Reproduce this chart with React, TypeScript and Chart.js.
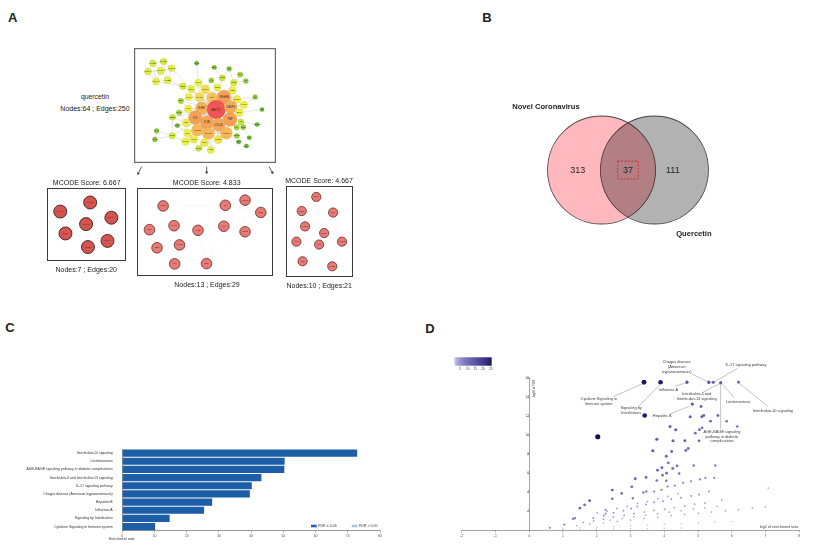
import { useEffect, useRef } from "react";
import { Chart, registerables } from "chart.js";

Chart.register(...registerables);
const FONT = "'Liberation Sans', Arial, Helvetica, sans-serif";
Chart.defaults.font.family = FONT;

type Pair = [number, number];
type Tri = [number, number, number];

// ================= Panel A : PPI network of quercetin targets =================
const NET_LABELS = ["CYP1B1","CYP2C9","CYP3A4","CYP19A1","CYP1A2","CYP1A1","CYP2E1","ACHE","NR1I3","IGF1","HSPA5","F3","MMP2","AHR","SIRT1","NOS3","SPP1","ABCB1","NQO1","HMOX1","SOD1","AR","MMP1","PPARG","JUN","VEGFA","CDKN1A","ESR1","CASP8","F2","EGFR","AKT1","CASP3","MYC","PTGS1","BCL2","IL6","ERBB2","TNF","IL1B","FOS","CXCL8","IL2","PRKCA","CD40LG","PLAU","CCL2","IL1A","SELE","CRP","ICAM1","MMP9","CXCL11","GJA1","PLAT","NOS2","CXCL10","VCAM1","IFNG","PTGS2","HSPB1","DCAF5","CXCL2","CCL5"];
const NET_X = [10.7,23,5,19.7,32.3,14.3,27.7,61.3,81.7,99,111.7,118.3,91,78.3,104.3,85.3,63.3,45.3,55,71.3,103,129,52.3,64.7,79,93,108,43,116,137,67.3,84,100.7,51.7,41,110.7,59.7,33.3,100,73.3,49.3,86.7,112.7,39,131.3,15,62.3,107.7,115.3,50.7,75,95.7,107.7,122.3,13,33,48.3,58,70.3,86.3,110,119,63.7,77.7];
const NET_Y = [6.7,4.7,16.7,16,12.7,28.7,27,6.7,11.7,13.3,20.3,28,24.3,27.3,30,35.7,30.3,34.3,37.7,38,39.7,47.3,47.3,47.3,48.3,47.3,50,52,56.7,62.3,60.7,62.3,59.3,61.7,66,66,72.3,71.7,74.3,77.7,78.3,80.7,77.3,81.7,80.3,88,87,83.7,83.7,90.7,91,90.7,94,96.3,98.3,94,101,98,102.3,98.3,101.3,106.3,109,111];
const NET_DEGREE = [10,10,11,12,11,12,12,2,3,4,6,4,8,5,10,12,13,10,12,18,13,4,13,18,25,35,14,6,13,2,31,52,32,14,6,14,35,8,35,34,15,33,8,3,2,4,29,6,5,14,29,29,5,2,4,10,13,14,15,16,2,2,8,12];
const NET_EDGES: Pair[] = [
  [1,2],[1,3],[1,4],[2,4],[2,5],[3,4],[3,6],[4,5],[4,6],[4,7],[5,7],[6,7],[1,6],[2,7],[7,18],[6,18],[5,19],[18,23],[18,32],[19,32],
  [32,17],[32,19],[32,20],[32,23],[32,24],[32,25],[32,26],[32,27],[32,29],[32,31],[32,33],[32,34],[32,36],[32,37],[32,39],[32,40],[32,41],[32,42],[32,47],[32,50],[32,51],[32,52],[32,56],[32,57],[32,58],[32,59],[32,60],[32,63],[32,64],[32,16],[32,21],[32,13],[32,15],[32,28],[32,35],[32,38],[32,43],[32,48],
  [26,31],[26,33],[26,37],[26,39],[26,40],[26,42],[31,33],[31,37],[31,39],[31,40],[31,47],[33,37],[33,39],[33,42],[33,52],[37,39],[37,40],[37,42],[37,47],[37,51],[39,40],[39,42],[39,51],[39,52],[40,42],[40,47],[40,51],[42,47],[42,51],[42,52],[47,51],[51,52],[47,52],[25,26],[25,31],[25,33],[25,39],[24,31],[24,37],[20,25],[20,31],[20,26],
  [9,13],[10,13],[10,15],[11,15],[11,21],[12,21],[13,16],[14,16],[14,20],[8,17],[17,20],[17,24],[16,25],[15,26],[21,26],[21,33],[22,27],[22,29],[27,33],[29,33],[29,39],[30,36],[36,39],[36,33],[28,23],[28,34],[35,34],[35,41],[38,41],[38,56],[44,41],[44,50],[46,56],[55,56],[46,55],[56,57],[57,58],[57,50],[58,47],[59,51],[59,40],[60,51],[60,52],[63,58],[63,59],[64,59],[64,51],[61,52],[62,53],[53,48],[48,39],[49,39],[49,43],[43,36],[45,43],[54,49],[41,37],[50,47],[34,31],[34,37],[23,24],[19,24],[41,40],[57,47],[60,42],[27,26],[29,36],[12,15]
];
const NET_TITLE = "quercetin";
const NET_NODE_COUNT = 64;
const NET_EDGE_COUNT = 250;

// MCODE clusters
const MCODE_SCORES = ["6.667", "4.833", "4.667"];
const MCODE_NODE_COUNTS = [7, 13, 10];
const MCODE_EDGE_COUNTS = [20, 29, 21];
const CL1_LABELS = ["CYP1B1","CYP3A4","CYP19A1","CYP1A2","GSTP1","CYP1A1","CYP2E1"];
const CL1_X = [44,7.3,70,39,13.7,65.3,41.3];
const CL1_Y = [9,20.3,28,36,47.7,57,64.7];
const CL1_EDGES: Pair[] = [[1,2],[1,3],[1,4],[1,5],[1,6],[1,7],[2,4],[2,5],[2,6],[2,7],[3,4],[3,5],[3,6],[3,7],[4,5],[4,6],[4,7],[5,6],[5,7],[6,7]];
const CL2_LABELS = ["CXCL2","IL6","CXCL10","CCL2","IFNG","ICAM1","IL1B","IL10","CXCL8","SELE","VCAM1","IL1A","CRP"];
const CL2_X = [22,90.3,112,129.3,7,34,60.3,88.7,112,15.3,40,34.7,69.7];
const CL2_Y = [13.7,13,7,21.3,41.3,36.7,42,37.3,43.7,62.3,59,81,80.7];
const CL2_EDGES: Pair[] = [[1,2],[1,5],[1,6],[1,7],[2,3],[2,4],[2,8],[2,7],[3,4],[3,8],[3,9],[4,9],[4,8],[5,6],[5,10],[6,7],[6,10],[6,11],[7,8],[7,11],[7,13],[8,9],[8,13],[9,13],[10,11],[10,12],[11,12],[11,13],[12,13]];
const CL3_LABELS = ["MMP9","EGFR","JUN","CASP3","VEGFA","AKT1","FOS","MAPK1","TNF","PTGS2"];
const CL3_X = [29.7,12.3,49.7,16.3,39,6,33,60.3,13.3,48.7];
const CL3_Y = [6.3,22.3,24,39.7,47.3,57,60.3,57,79.3,85];
const CL3_EDGES: Pair[] = [[1,2],[1,3],[1,5],[2,3],[2,4],[2,5],[3,5],[3,8],[4,5],[4,6],[4,7],[5,7],[5,8],[6,7],[6,9],[7,8],[7,9],[7,10],[8,10],[9,10],[4,9]];

// ================= Panel B : Venn =================
const VENN_SETS = ["Novel Coronavirus", "Quercetin"];
const VENN_ONLY = [313, 111];
const VENN_SHARED = 37;

// ================= Panel C : enrichment bar chart =================
const C_LABELS = [
  "Interleukin-10 signaling",
  "Leishmaniasis",
  "AGE-RAGE signaling pathway in diabetic complications",
  "Interleukin-4 and Interleukin-13 signaling",
  "IL-17 signaling pathway",
  "Chagas disease (American trypanosomiasis)",
  "Hepatitis B",
  "Influenza A",
  "Signaling by Interleukins",
  "Cytokine Signaling in Immune system",
];
const C_VALUES = [72.9, 50.4, 50.3, 43.2, 40.2, 39.6, 27.9, 25.4, 14.7, 10.2];
const C_NONSIG: (number | null)[] = [null, null, null, null, null, null, null, null, null, null];
const C_LEGEND = ["FDR \u2264 0.05", "FDR > 0.05"];
const C_X_TITLE = "Enrichment ratio";

// ================= Panel D : volcano-like scatter =================
// [log2 enrichment ratio, -log10 FDR, overlapping genes]
const D_TOP: Tri[] = [[3.40,15.6,25],[3.89,15.6,24],[4.67,15.6,14],[5.32,15.6,14],[5.45,15.6,13],[5.67,15.55,13],[6.20,15.6,11]];
const D_UPPER: Tri[] = [[4.83,13.3,13],[5.09,13.05,11],[3.42,12.1,24],[4.77,11.97,12],[5.11,11.97,11],[5.17,12.1,11],[5.59,12.1,10],[5.37,11.5,10],[5.85,11.5,9],
  [4.17,10.95,12],[4.34,10.6,12],[6.16,10.95,8],[5.12,10.8,10],[5.04,10.6,10],[4.92,10.24,10],[2.03,9.86,27],[3.78,9.6,13],[4.26,9.44,12],[4.61,9.44,11],[5.03,9.44,10]];
const D_MIDDLE: Tri[] = [[4.71,8.63,10],[3.66,8.39,13],[4.22,8.32,11],[4.64,8.42,10],[4.06,7.82,11],[4.12,7.12,10],[3.80,6.35,11],[3.93,6.6,11],[4.25,6.53,10],[4.38,6.8,9],[4.07,6.03,10],[4.44,6.0,9],[4.87,6.84,8],[5.51,6.84,7],[3.95,5.82,9],
  [3.46,5.58,10],[3.14,5.44,11],[3.78,5.26,9],[4.06,5.23,8],[5.22,5.54,6],[5.48,5.54,6],[3.04,4.6,10],[2.74,3.9,9],[2.46,4.25,11],[2.46,3.34,9],[1.50,2.35,10],[1.64,2.7,10],[1.79,3.13,11]];
const D_LOWER: Tri[] = [[2.26,2.18,6],[2.26,1.79,5],[1.30,1.23,7],[1.35,1.30,7],[1.04,0.63,6],[0.61,0.28,5],[3.07,3.4,7],[3.38,4.0,7],[3.47,4.1,7],[3.70,4.1,6],[5.70,3.23,3],[5.32,4.1,4],[5.03,3.79,4],[7.08,4.46,2],
  [3.92,4.28,6],[4.1,4.62,6],[4.31,4.73,6],[4.56,5.02,6],[4.79,5.18,6],[5.06,5.37,6]];
const D_SMALL: Tri[] = [
  [1.9,1.32,4],[2.21,1.58,4],[2.5,1.87,4],[2.79,2.08,4],[3.02,2.31,4],[3.2,2.52,4],[3.46,2.73,4],[3.7,2.97,4],[3.96,3.08,4],[4.21,3.31,4],[4.49,3.44,4],[4.8,3.62,4],
  [2.02,1.86,3],[2.31,2.04,3],[2.6,2.31,3],[2.9,2.54,3],[3.21,2.86,3],[3.5,3.04,3],[3.81,3.36,3],[4.1,3.59,3],[4.41,3.86,3],
  [1.6,0.86,3],[1.91,1.01,3],[2.2,1.19,3],[2.49,1.42,3],[2.81,1.58,3],[3.1,1.76,3],[3.41,1.94,3],[3.69,2.12,3],[4.01,2.24,3],[4.3,2.41,3],[4.61,2.58,3],[4.9,2.77,3],[5.21,2.89,3],
  [2.4,1.1,2],[2.76,1.27,2],[3.1,1.43,2],[3.45,1.6,2],[3.8,1.76,2],[4.15,1.93,2],[4.5,2.07,2],[4.86,2.25,2],[5.2,2.38,2],[5.56,2.55,2],
  [1.41,0.49,2],[1.79,0.66,2],[2.2,0.79,2],[2.61,0.96,2],[3.0,1.09,2],[3.4,1.26,2],[3.81,1.39,2],[4.2,1.56,2],[4.6,1.69,2],[5.01,1.81,2],[5.4,1.94,2],[5.81,2.06,2],[6.2,2.19,2],[6.61,2.36,2],[7.0,2.49,2],
  [1.0,0.2,1],[1.5,0.29,1],[2.01,0.35,1],[2.5,0.43,1],[3.0,0.5,1],[3.51,0.57,1],[4.0,0.66,1],[4.5,0.71,1],[5.01,0.8,1],[5.5,0.89,1],[6.0,0.94,1],
  [0.5,0.05,1],[1.0,0.08,1],[1.5,0.1,1],[2.0,0.13,1],[2.5,0.15,1],[3.0,0.18,1],[3.5,0.2,1],[4.0,0.23,1],[4.5,0.25,1],
];
const D_X_TICKS = [-2, -1, 0, 1, 2, 3, 4, 5, 6, 7, 8];
const D_Y_TICKS = [2, 4, 6, 8, 10, 12, 14, 16];
const D_COLORBAR_TICKS = [5, 10, 15, 20, 25];
const D_X_TITLE = "log2 of enrichment ratio";
const D_Y_TITLE = "-log10 of FDR";

// annotation layout (label anchor and leader line, in data units)
const D_ANNOTATIONS = [
  { lines: ["Cytokine Signaling in", "Immune system"], tx: 2.06, ty: 13.87, from: [2.49, 14.08], to: [3.36, 15.45] },
  { lines: ["Signaling by", "Interleukins"], tx: 3.02, ty: 12.93, from: [3.26, 13.1], to: [3.87, 15.35] },
  { lines: ["Influenza A"], tx: 4.12, ty: 14.79, from: [4.32, 15.18], to: [4.61, 15.5] },
  { lines: ["Chagas disease", "(American", "trypanosomiasis)"], tx: 4.37, ty: 17.71, from: [4.82, 16.47], to: [5.31, 15.63] },
  { lines: ["IL-17 signaling pathway"], tx: 6.42, ty: 17.42, from: [6.17, 17.07], to: [5.45, 15.56] },
  { lines: ["Interleukin-4 and", "Interleukin-13 signaling"], tx: 4.96, ty: 14.34, from: [5.15, 14.55], to: [5.67, 15.5] },
  { lines: ["Leishmaniasis"], tx: 6.19, ty: 13.53, from: [6.07, 13.98], to: [5.71, 15.42] },
  { lines: ["Interleukin-10 signaling"], tx: 7.22, ty: 12.61, from: [7.08, 13.03], to: [6.22, 15.49] },
  { lines: ["Hepatitis B"], tx: 3.94, ty: 12.08, from: [4.17, 12.26], to: [4.76, 13.1] },
  { lines: ["AGE-RAGE signaling", "pathway in diabetic", "complications"], tx: 5.71, ty: 10.4, from: [5.67, 10.65], to: [5.67, 15.42] },
];

// ================= helpers =================
function rgb(c: number[]) {
  return `rgb(${Math.round(c[0])},${Math.round(c[1])},${Math.round(c[2])})`;
}
function ramp(stops: [number, number[]][], v: number): string {
  if (v <= stops[0][0]) return rgb(stops[0][1]);
  for (let i = 1; i < stops.length; i++) {
    const [v1, c1] = stops[i];
    const [v0, c0] = stops[i - 1];
    if (v <= v1) {
      const t = (v - v0) / (v1 - v0);
      return rgb(c0.map((c, k) => c + (c1[k] - c) * t));
    }
  }
  return rgb(stops[stops.length - 1][1]);
}
const DEGREE_STOPS: [number, number[]][] = [[2,[104,186,52]],[8,[196,228,58]],[13,[236,242,72]],[20,[248,210,86]],[32,[246,172,88]],[52,[240,84,84]]];
const degreeColor = (d: number) => ramp(DEGREE_STOPS, d);
const degreeRadius = (d: number) => 2.0 + d * 0.142;
const OVERLAP_STOPS: [number, number[]][] = [[0,[238,238,250]],[1.5,[178,175,218]],[4,[152,148,206]],[8,[122,116,186]],[13,[96,89,170]],[20,[58,50,134]],[27,[18,14,74]]];
const overlapColor = (n: number) => ramp(OVERLAP_STOPS, n);
const overlapRadius = (n: number) => 0.72 + n * 0.068;

const baseOptions = {
  responsive: false,
  animation: false as const,
  events: [] as any[],
  plugins: { legend: { display: false }, tooltip: { enabled: false } },
};

// ================= chart configs =================
interface NetSpec {
  width: number; height: number;
  labels: string[]; xs: number[]; ys: number[];
  radius: number[]; fill: string[]; stroke: string; strokeWidth: number;
  edges: Pair[]; edgeColor: string; edgeWidth: number;
  fontSize: number[]; frame: string; frameWidth: number;
}
function networkConfig(spec: NetSpec) {
  const plugin = {
    id: "network",
    beforeDatasetsDraw(chart: any) {
      const { ctx, scales: { x, y } } = chart;
      ctx.save();
      ctx.strokeStyle = spec.edgeColor;
      ctx.lineWidth = spec.edgeWidth;
      ctx.beginPath();
      spec.edges.forEach(([a, b]) => {
        ctx.moveTo(x.getPixelForValue(spec.xs[a - 1]), y.getPixelForValue(spec.ys[a - 1]));
        ctx.lineTo(x.getPixelForValue(spec.xs[b - 1]), y.getPixelForValue(spec.ys[b - 1]));
      });
      ctx.stroke();
      ctx.restore();
    },
    afterDatasetsDraw(chart: any) {
      const { ctx, scales: { x, y } } = chart;
      ctx.save();
      ctx.fillStyle = "#2a2a2a";
      ctx.textAlign = "center";
      ctx.textBaseline = "middle";
      spec.labels.forEach((lab, i) => {
        ctx.font = `${spec.fontSize[i]}px ${FONT}`;
        ctx.fillText(lab, x.getPixelForValue(spec.xs[i]), y.getPixelForValue(spec.ys[i]));
      });
      ctx.restore();
    },
    afterDraw(chart: any) {
      const { ctx, width, height } = chart;
      ctx.save();
      ctx.strokeStyle = spec.frame;
      ctx.lineWidth = spec.frameWidth;
      const h = spec.frameWidth / 2;
      ctx.strokeRect(h, h, width - spec.frameWidth, height - spec.frameWidth);
      ctx.restore();
    },
  };
  return {
    type: "scatter",
    data: {
      datasets: [{
        data: spec.xs.map((v, i) => ({ x: v, y: spec.ys[i] })),
        pointRadius: spec.radius,
        pointBackgroundColor: spec.fill,
        pointBorderColor: spec.stroke,
        pointBorderWidth: spec.strokeWidth,
        clip: false,
      }],
    },
    options: {
      ...baseOptions,
      layout: { padding: 0 },
      scales: {
        x: { type: "linear", min: 0, max: spec.width, display: false },
        y: { type: "linear", min: 0, max: spec.height, reverse: true, display: false },
      },
    },
    plugins: [plugin],
  };
}

function mainNetwork() {
  return networkConfig({
    width: 142, height: 115,
    labels: NET_LABELS, xs: NET_X, ys: NET_Y,
    radius: NET_DEGREE.map(degreeRadius),
    fill: NET_DEGREE.map(degreeColor),
    stroke: "rgba(120,120,60,0.25)", strokeWidth: 0.3,
    edges: NET_EDGES, edgeColor: "rgba(150,150,150,0.6)", edgeWidth: 0.4,
    fontSize: NET_DEGREE.map((d) => Math.max(1.8, degreeRadius(d) * 0.4)),
    frame: "#6a6a6a", frameWidth: 1.2,
  });
}
function clusterNetwork(labels: string[], xs: number[], ys: number[], edges: Pair[], w: number, h: number, r: number, fill: string, stroke: string) {
  return networkConfig({
    width: w, height: h, labels, xs, ys,
    radius: xs.map(() => r), fill: xs.map(() => fill),
    stroke, strokeWidth: 0.8,
    edges, edgeColor: "rgba(200,200,200,0.35)", edgeWidth: 0.35,
    fontSize: xs.map(() => 1.8), frame: "#3a3a3a", frameWidth: 1,
  });
}

function vennConfig() {
  const unit = (chart: any) => chart.scales.x.getPixelForValue(1) - chart.scales.x.getPixelForValue(0);
  const plugin = {
    id: "venn",
    beforeDatasetsDraw(chart: any) {
      chart.ctx.save();
      chart.ctx.globalCompositeOperation = "multiply";
    },
    afterDatasetsDraw(chart: any) {
      const { ctx, scales: { x, y } } = chart;
      ctx.restore();
      ctx.save();
      ctx.textAlign = "center";
      ctx.textBaseline = "middle";
      ctx.fillStyle = "#1e1e1e";
      ctx.font = `bold 7.6px ${FONT}`;
      ctx.fillText(VENN_SETS[0], x.getPixelForValue(-1.52), y.getPixelForValue(1.17));
      ctx.fillText(VENN_SETS[1], x.getPixelForValue(1.22), y.getPixelForValue(-1.19));
      ctx.font = `9px ${FONT}`;
      ctx.fillText(String(VENN_ONLY[0]), x.getPixelForValue(-0.93), y.getPixelForValue(-0.01));
      ctx.fillText(String(VENN_SHARED), x.getPixelForValue(0), y.getPixelForValue(-0.01));
      ctx.fillText(String(VENN_ONLY[1]), x.getPixelForValue(0.83), y.getPixelForValue(-0.01));
      ctx.strokeStyle = "#d42a2a";
      ctx.lineWidth = 1;
      ctx.setLineDash([2, 1.4]);
      const x0 = x.getPixelForValue(-0.19), x1 = x.getPixelForValue(0.19);
      const y0 = y.getPixelForValue(0.165), y1 = y.getPixelForValue(-0.165);
      ctx.strokeRect(x0, y0, x1 - x0, y1 - y0);
      ctx.restore();
    },
  };
  return {
    type: "scatter",
    data: {
      datasets: [{
        data: [{ x: -0.49, y: 0 }, { x: 0.49, y: 0 }],
        pointRadius: (c: any) => unit(c.chart),
        pointBackgroundColor: ["rgb(255,184,189)", "rgb(178,178,178)"],
        pointBorderColor: "#4a4a4a",
        pointBorderWidth: 0.8,
        clip: false,
      }],
    },
    options: {
      ...baseOptions,
      layout: { padding: 0 },
      scales: {
        x: { type: "linear", min: -3, max: 3, display: false },
        y: { type: "linear", min: -1.5, max: 1.5, display: false },
      },
    },
    plugins: [plugin],
  };
}

function barConfig() {
  const plugin = {
    id: "barExtras",
    afterDraw(chart: any) {
      const { ctx, chartArea } = chart;
      ctx.save();
      ctx.font = `3.6px ${FONT}`;
      ctx.textBaseline = "middle";
      ctx.textAlign = "left";
      const ly = chartArea.bottom - 4.7;
      let lx = chartArea.right - 69;
      chart.data.datasets.forEach((ds: any) => {
        ctx.fillStyle = ds.backgroundColor;
        ctx.fillRect(lx, ly - 1.3, 5.7, 2.6);
        ctx.fillStyle = "#333";
        ctx.fillText(ds.label, lx + 7.3, ly);
        lx += 40.7;
      });
      ctx.fillStyle = "#333";
      ctx.font = `3.5px ${FONT}`;
      ctx.fillText(C_X_TITLE, chartArea.left - 13.3, chartArea.bottom + 8.3);
      ctx.restore();
    },
  };
  return {
    type: "bar",
    data: {
      labels: C_LABELS,
      datasets: [
        { label: C_LEGEND[0], data: C_VALUES, backgroundColor: "#1c5ea8", categoryPercentage: 0.88, barPercentage: 1 },
        { label: C_LEGEND[1], data: C_NONSIG, backgroundColor: "#a4c6e7", categoryPercentage: 0.88, barPercentage: 1 },
      ],
    },
    options: {
      ...baseOptions,
      indexAxis: "y",
      layout: { padding: { top: 9, right: 20, left: 0, bottom: 0 } },
      scales: {
        x: {
          stacked: true, min: 0, max: 80,
          ticks: { stepSize: 10, font: { size: 3.5 }, color: "#555", padding: 1, maxRotation: 0, autoSkip: false },
          grid: { drawOnChartArea: false, tickLength: 2, color: "#666", lineWidth: 0.5 },
          border: { color: "#555", width: 0.6 },
          afterFit: (s: any) => { s.height = 16.3; },
        },
        y: {
          stacked: true,
          ticks: { font: { size: 3.5 }, color: "#333", padding: 1.6, autoSkip: false },
          grid: { display: false },
          border: { color: "#555", width: 0.6 },
          afterFit: (s: any) => { s.width = 122.3; },
        },
      },
    },
    plugins: [plugin],
  };
}

function scatterConfig() {
  const all = [...D_SMALL, ...D_LOWER, ...D_MIDDLE, ...D_UPPER, ...D_TOP];
  const plugin = {
    id: "scatterExtras",
    afterDraw(chart: any) {
      const { ctx, scales: { x, y }, chartArea } = chart;
      ctx.save();
      // leader lines
      ctx.strokeStyle = "#8a8a8a";
      ctx.lineWidth = 0.5;
      D_ANNOTATIONS.forEach((a) => {
        ctx.beginPath();
        ctx.moveTo(x.getPixelForValue(a.from[0]), y.getPixelForValue(a.from[1]));
        ctx.lineTo(x.getPixelForValue(a.to[0]), y.getPixelForValue(a.to[1]));
        ctx.stroke();
      });
      ctx.fillStyle = "#3a3a3a";
      ctx.font = `3.9px ${FONT}`;
      ctx.textAlign = "center";
      ctx.textBaseline = "middle";
      D_ANNOTATIONS.forEach((a) => {
        a.lines.forEach((ln, k) => {
          ctx.fillText(ln, x.getPixelForValue(a.tx), y.getPixelForValue(a.ty) + k * 4.8);
        });
      });
      // axis titles
      ctx.font = `3.7px ${FONT}`;
      ctx.fillText(D_X_TITLE, x.getPixelForValue(7.4), y.getPixelForValue(0) - 3.5);
      ctx.save();
      ctx.translate(x.getPixelForValue(0) + 4.7, y.getPixelForValue(14.9));
      ctx.rotate(-Math.PI / 2);
      ctx.font = `2.9px ${FONT}`;
      ctx.fillText(D_Y_TITLE, 0, 0);
      ctx.restore();
      // colour bar
      const bx0 = chartArea.left - 7.7, bx1 = chartArea.left + 30;
      const by0 = chartArea.top - 20.2, by1 = chartArea.top - 11.8;
      const vOf = (px: number) => (px - (chartArea.left - 9.4)) / 1.535;
      const g = ctx.createLinearGradient(bx0, 0, bx1, 0);
      for (let k = 0; k <= 20; k++) {
        g.addColorStop(k / 20, overlapColor(vOf(bx0 + (bx1 - bx0) * k / 20) - 1));
      }
      ctx.fillStyle = g;
      ctx.fillRect(bx0, by0, bx1 - bx0, by1 - by0);
      ctx.strokeStyle = "#555";
      ctx.lineWidth = 0.4;
      ctx.fillStyle = "#444";
      ctx.font = `3.2px ${FONT}`;
      D_COLORBAR_TICKS.forEach((t) => {
        const px = chartArea.left - 9.4 + t * 1.535;
        ctx.beginPath();
        ctx.moveTo(px, by1);
        ctx.lineTo(px, by1 + 1.2);
        ctx.stroke();
        ctx.fillText(String(t), px, by1 + 3.6);
      });
      ctx.restore();
    },
  };
  return {
    type: "scatter",
    data: {
      datasets: [{
        data: all.map((p) => ({ x: p[0], y: p[1], n: p[2] })),
        pointRadius: all.map((p) => overlapRadius(p[2])),
        pointBackgroundColor: all.map((p) => overlapColor(p[2])),
        pointBorderWidth: 0,
        clip: false,
      }],
    },
    options: {
      ...baseOptions,
      layout: { padding: { left: 21.7, right: 16.7, top: 37.5, bottom: 0 } },
      scales: {
        x: {
          type: "linear", min: -2, max: 8,
          afterBuildTicks: (s: any) => { s.ticks = D_X_TICKS.map((v) => ({ value: v })); },
          ticks: { font: { size: 3.5 }, color: "#555", padding: 1, maxRotation: 0, autoSkip: false },
          grid: { drawOnChartArea: false, tickLength: 2, color: "#666", lineWidth: 0.5 },
          border: { color: "#666", width: 0.6 },
          afterFit: (s: any) => { s.height = 16.5; },
        },
        y: {
          type: "linear", min: 0, max: 16.1, position: { x: 0 },
          afterBuildTicks: (s: any) => { s.ticks = D_Y_TICKS.map((v) => ({ value: v })); },
          ticks: { font: { size: 3.5 }, color: "#555", padding: 1.5, autoSkip: false },
          grid: { drawOnChartArea: false, tickLength: 2, color: "#666", lineWidth: 0.5 },
          border: { color: "#666", width: 0.6 },
        },
      },
    },
    plugins: [plugin],
  };
}

// ================= components =================
function ChartCanvas({ left, top, width, height, make }: { left: number; top: number; width: number; height: number; make: () => any }) {
  const ref = useRef<HTMLCanvasElement>(null);
  useEffect(() => {
    const chart = new Chart(ref.current as HTMLCanvasElement, make());
    return () => chart.destroy();
  }, []);
  return <canvas ref={ref} width={width} height={height} style={{ position: "absolute", left, top, width, height }} />;
}

function Txt({ x, y, size, bold, children }: { x: number; y: number; size: number; bold?: boolean; children: any }) {
  return (
    <div style={{ position: "absolute", left: x, top: y, transform: "translate(-50%,-50%)", fontSize: size, fontWeight: bold ? 700 : 400, color: "#222", whiteSpace: "nowrap", lineHeight: 1, fontFamily: FONT }}>
      {children}
    </div>
  );
}

const ARROWS = [[141.7, 166.7, 137.3, 175], [206.7, 166.7, 206.7, 174.3], [269, 166.7, 273.3, 174.3]];
function Arrows() {
  return (
    <svg width={400} height={300} style={{ position: "absolute", left: 0, top: 0 }}>
      {ARROWS.map(([x1, y1, x2, y2], i) => {
        const a = Math.atan2(y2 - y1, x2 - x1);
        const L = 2.8, W = 1.5;
        const bx = x2 - L * Math.cos(a), by = y2 - L * Math.sin(a);
        const p1 = `${bx + W * Math.sin(a)},${by - W * Math.cos(a)}`;
        const p2 = `${bx - W * Math.sin(a)},${by + W * Math.cos(a)}`;
        return (
          <g key={i}>
            <line x1={x1} y1={y1} x2={bx} y2={by} stroke="#333" strokeWidth={0.8} />
            <polygon points={`${x2},${y2} ${p1} ${p2}`} fill="#333" />
          </g>
        );
      })}
    </svg>
  );
}

export default function App() {
  return (
    <div style={{ position: "absolute", left: 0, top: 0, width: 816, height: 547, background: "#fff", overflow: "hidden", fontFamily: FONT }}>
      <Txt x={12.7} y={16.7} size={13} bold>A</Txt>
      <Txt x={487} y={17} size={13} bold>B</Txt>
      <Txt x={10} y={327} size={13} bold>C</Txt>
      <Txt x={430} y={328} size={13} bold>D</Txt>

      {/* Panel A */}
      <Txt x={95} y={96.7} size={6.8}>{NET_TITLE}</Txt>
      <Txt x={95} y={108.3} size={7}>{`Nodes:${NET_NODE_COUNT} ; Edges:${NET_EDGE_COUNT}`}</Txt>
      <ChartCanvas left={134} top={48} width={142} height={115} make={mainNetwork} />
      <Arrows />
      <Txt x={86.7} y={181.7} size={7}>{`MCODE Score: ${MCODE_SCORES[0]}`}</Txt>
      <Txt x={206.7} y={182.3} size={7}>{`MCODE Score: ${MCODE_SCORES[1]}`}</Txt>
      <Txt x={319} y={180} size={7}>{`MCODE Score: ${MCODE_SCORES[2]}`}</Txt>
      <ChartCanvas left={47} top={188} width={79} height={73}
        make={() => clusterNetwork(CL1_LABELS, CL1_X, CL1_Y, CL1_EDGES, 79, 73, 6.5, "rgb(214,84,80)", "#2a1212")} />
      <ChartCanvas left={137} top={188} width={136} height={88}
        make={() => clusterNetwork(CL2_LABELS, CL2_X, CL2_Y, CL2_EDGES, 136, 88, 5.3, "rgb(231,122,116)", "#6b2a2a")} />
      <ChartCanvas left={286} top={186} width={67} height={91}
        make={() => clusterNetwork(CL3_LABELS, CL3_X, CL3_Y, CL3_EDGES, 67, 91, 4.6, "rgb(231,122,116)", "#6b2a2a")} />
      <Txt x={86.2} y={269.3} size={7}>{`Nodes:${MCODE_NODE_COUNTS[0]} ; Edges:${MCODE_EDGE_COUNTS[0]}`}</Txt>
      <Txt x={207} y={284} size={7}>{`Nodes:${MCODE_NODE_COUNTS[1]} ; Edges:${MCODE_EDGE_COUNTS[1]}`}</Txt>
      <Txt x={319.2} y={285} size={7}>{`Nodes:${MCODE_NODE_COUNTS[2]} ; Edges:${MCODE_EDGE_COUNTS[2]}`}</Txt>

      {/* Panel B */}
      <ChartCanvas left={466} top={89} width={324} height={162} make={vennConfig} />

      {/* Panel C */}
      <ChartCanvas left={0} top={440} width={400} height={107} make={barConfig} />

      {/* Panel D */}
      <ChartCanvas left={440} top={340} width={376} height={207} make={scatterConfig} />
    </div>
  );
}
